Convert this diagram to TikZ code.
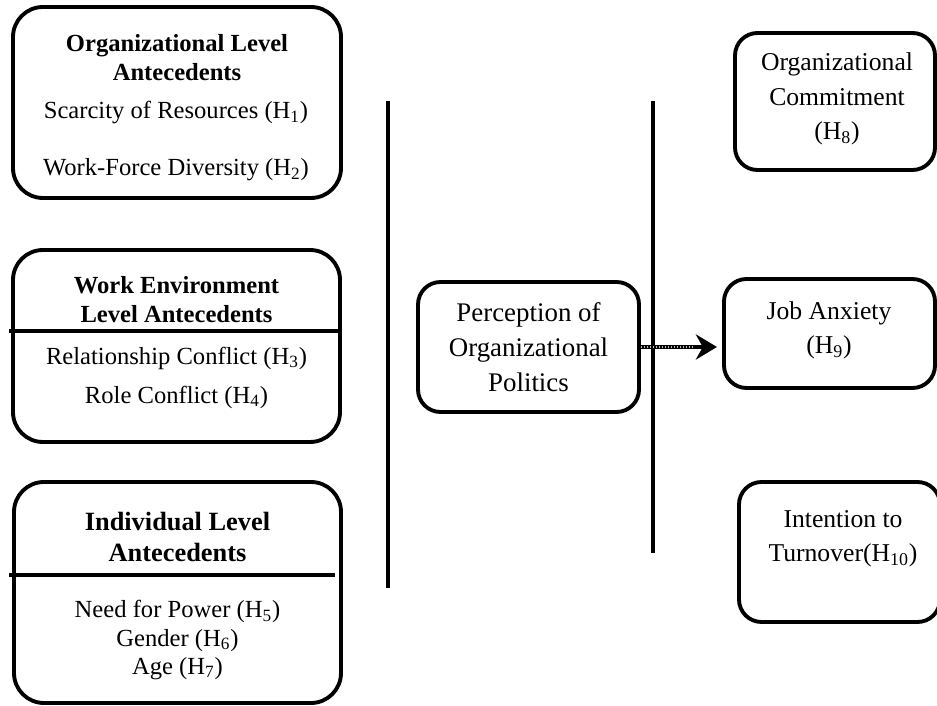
\documentclass[tikz,border=0pt]{standalone}
\usepackage{fontspec}
\setmainfont{Liberation Serif}
\usetikzlibrary{arrows.meta,positioning}

\newcommand{\hsub}[1]{(H\textsubscript{#1})}

\begin{document}
\begin{tikzpicture}[
        box/.style={draw, line width=2.2pt, rounded corners=0.6cm},
        sbox/.style={draw, line width=2.2pt, rounded corners=0.45cm},
        head/.style={font=\fontsize{14}{16.5}\selectfont\bfseries, align=center, inner sep=0pt},
        item/.style={font=\fontsize{14}{16}\selectfont, align=center, inner sep=0pt},
        outtxt/.style={font=\fontsize{14.6}{19.5}\selectfont, align=center, inner sep=0pt},
        sep/.style={line width=2.8pt}]
        \useasboundingbox (0,0) rectangle (18.74,14.12);

        % organizational level
        \node [box, minimum width=6.56cm, minimum height=3.82cm] (org) at (3.54,12.07) {};
        \node [head] (orghead) at (3.54,12.97) {Organizational Level\\Antecedents};
        \node [item] (h1) at (3.52,11.86) {Scarcity of Resources \hsub{1}};
        \node [item] (h2) at (3.52,10.72) {Work-Force Diversity \hsub{2}};

        % work environment level
        \node [box, minimum width=6.54cm, minimum height=3.84cm] (wenv) at (3.53,7.20) {};
        \node [head] (wenvhead) at (3.53,8.12) {Work Environment\\Level Antecedents};
        \draw [line width=2.2pt] (0.18,7.50) -- (6.80,7.50);
        \node [item] (h3) at (3.53,6.96) {Relationship Conflict \hsub{3}};
        \node [item] (h4) at (3.53,6.18) {Role Conflict \hsub{4}};

        % individual level
        \node [box, minimum width=6.54cm, minimum height=4.42cm] (indiv) at (3.55,2.27) {};
        \node [head, font=\fontsize{15}{17.5}\selectfont\bfseries] (indivhead) at (3.55,3.38) {Individual Level\\Antecedents};
        \draw [line width=2.2pt] (0.18,2.62) -- (6.70,2.62);
        \node [item] (h567) at (3.55,1.32) {Need for Power \hsub{5}\\Gender \hsub{6}\\Age \hsub{7}};

        % separators
        \draw [sep] (7.76,12.10) -- (7.76,2.36);
        \draw [sep] (13.06,12.10) -- (13.06,3.06);

        % POP
        \node [sbox, minimum width=4.42cm, minimum height=2.6cm, font=\fontsize{15.3}{20}\selectfont, align=center] (ppol) at (10.57,7.18) {Perception of\\Organizational\\Politics};

        % outcomes
        \node [sbox, minimum width=4.0cm, minimum height=2.74cm] (comm) at (16.70,12.09) {};
        \node [outtxt] (commtxt) at (16.74,12.14) {Organizational\\Commitment\\\hsub{8}};
        \node [sbox, minimum width=4.22cm, minimum height=2.18cm] (anx) at (16.59,7.45) {};
        \node [outtxt] (anxtxt) at (16.58,7.52) {Job Anxiety\\\hsub{9}};
        \node [sbox, minimum width=4.02cm, minimum height=2.8cm] (turn) at (16.79,3.08) {};
        \node [outtxt] (turntxt) at (16.86,3.35) {Intention to\\Turnover\hsub{10}};

        \coordinate [right=1.52cm of ppol.east] (tip);
        \draw [line width=2.6pt, -{Stealth[length=4.2mm, width=5mm]}] (ppol.east) -- (tip);
        \draw [gray!55, line width=0.7pt, densely dotted] (ppol.east) -- ([xshift=-4.5mm]tip);
    \end{tikzpicture}
\end{document}
